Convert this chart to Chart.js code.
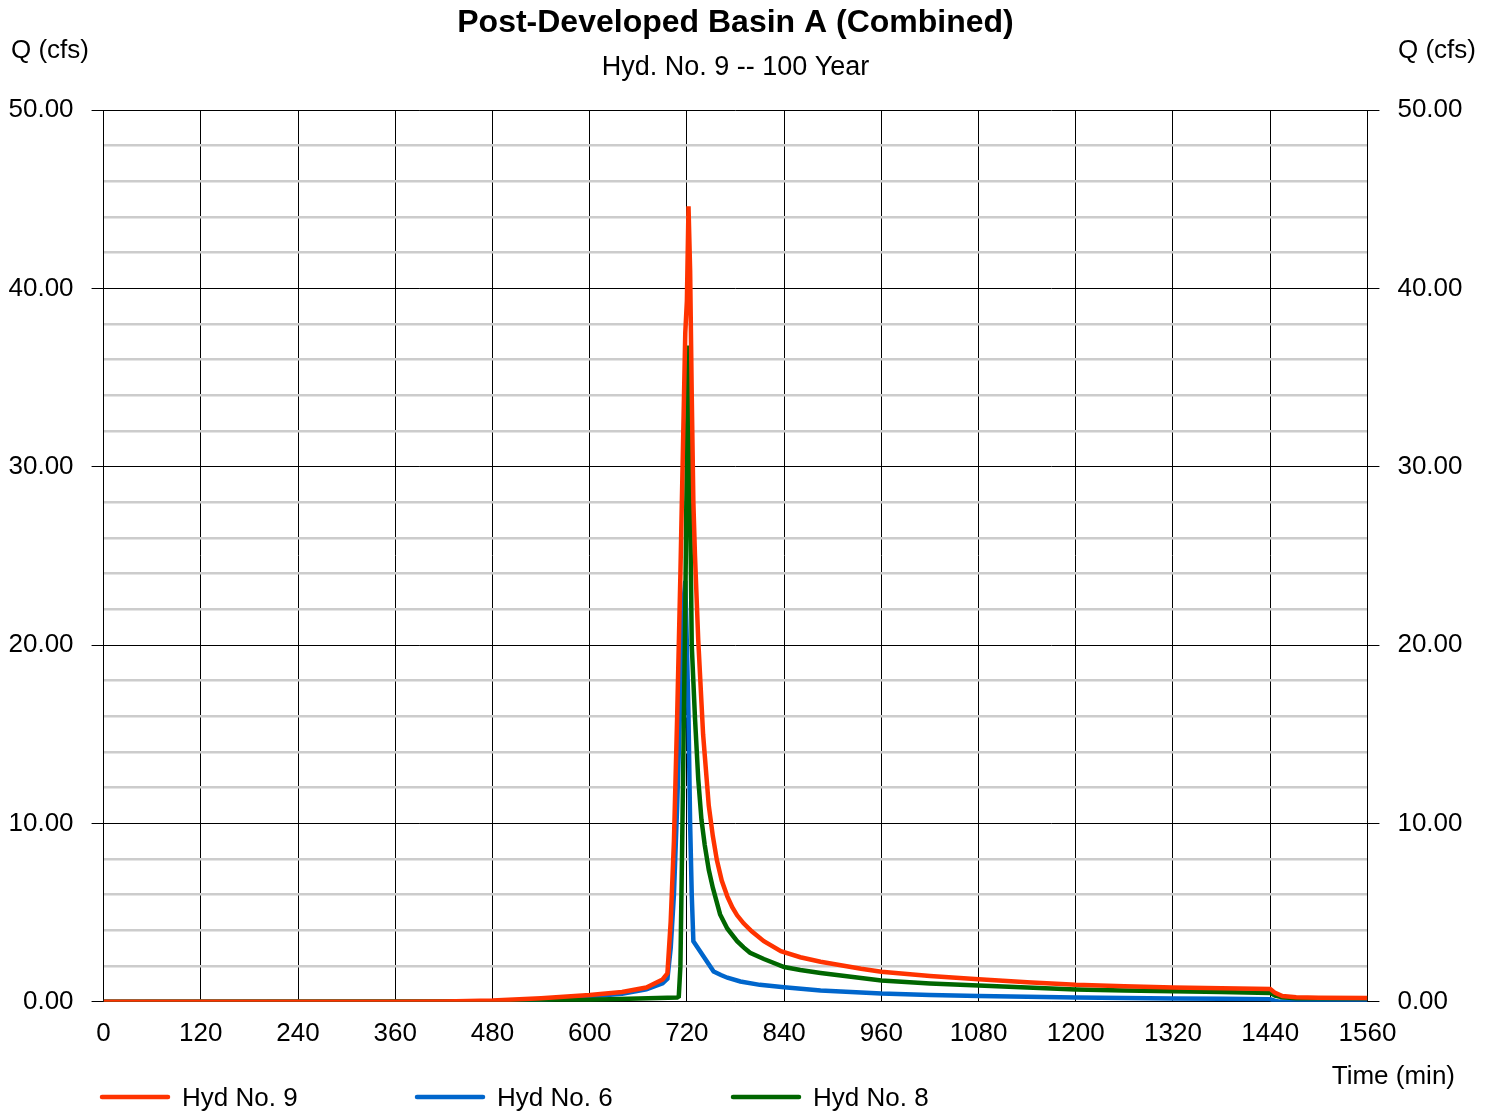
<!DOCTYPE html>
<html>
<head>
<meta charset="utf-8">
<title>Post-Developed Basin A (Combined)</title>
<script src="https://cdn.jsdelivr.net/npm/chart.js@4.4.1/dist/chart.umd.min.js"></script>
<style>
  html, body { margin: 0; padding: 0; background: #fff; }
  #wrap { position: relative; width: 1494px; height: 1112px; }
</style>
</head>
<body>
<div id="wrap"><canvas id="hydroChart"></canvas></div>
<script>
// hydrograph values (time in min, Q in cfs)
const chartTitle = 'Post-Developed Basin A (Combined)';
const chartSubtitle = 'Hyd. No. 9 -- 100 Year';
const seriesNames = ['Hyd No. 9', 'Hyd No. 6', 'Hyd No. 8'];
const seriesColors = ['#ff3300', '#0066cc', '#006600'];

const time9 = [0, 360, 420, 480, 540, 600, 640, 670, 690, 696, 700, 704, 708, 712, 716, 718, 720, 722, 724, 726, 728, 730, 734, 740, 747, 752, 757, 763, 770, 776, 782, 790, 800, 815, 836, 860, 885, 910, 935, 960, 1020, 1080, 1140, 1200, 1260, 1320, 1380, 1440, 1446, 1455, 1472, 1500, 1560];
const flow9 = [0, 0, 0.01, 0.07, 0.2, 0.38, 0.55, 0.8, 1.25, 1.6, 4.5, 9, 16, 24, 33, 37.5, 39.3, 44.6, 41, 34, 28, 25, 20.3, 15, 11, 9.3, 7.95, 6.8, 5.9, 5.3, 4.85, 4.4, 3.95, 3.4, 2.84, 2.5, 2.25, 2.05, 1.85, 1.68, 1.45, 1.26, 1.1, 0.95, 0.87, 0.8, 0.76, 0.72, 0.5, 0.32, 0.25, 0.23, 0.22];

const time6 = [0, 420, 480, 540, 600, 640, 670, 690, 696, 700, 704, 708, 712, 716, 718, 720, 722, 724, 726, 728, 753, 762, 770, 786, 810, 840, 885, 910, 960, 1020, 1080, 1140, 1200, 1260, 1320, 1380, 1440, 1446, 1452, 1500, 1560];
const flow6 = [0, 0, 0.03, 0.12, 0.3, 0.45, 0.7, 1.04, 1.3, 3, 6, 11, 17, 22.5, 23.6, 20, 16, 10, 6, 3.4, 1.7, 1.5, 1.35, 1.14, 0.95, 0.81, 0.63, 0.58, 0.46, 0.38, 0.32, 0.28, 0.24, 0.21, 0.19, 0.17, 0.15, 0.05, 0.01, 0, 0];

const time8 = [0, 480, 540, 600, 660, 708, 710, 712, 714, 716, 718, 720, 722, 724, 726, 730, 734, 738, 742, 747, 752, 761, 770, 782, 790, 798, 815, 840, 860, 885, 910, 960, 1020, 1080, 1140, 1200, 1260, 1320, 1380, 1440, 1446, 1455, 1472, 1500, 1560];
const flow8 = [0, 0.01, 0.05, 0.12, 0.18, 0.24, 0.3, 2, 8.3, 15, 22, 31, 36.8, 28, 20, 15.9, 12.5, 10.2, 8.8, 7.4, 6.4, 4.9, 4.1, 3.4, 3.05, 2.75, 2.4, 1.95, 1.78, 1.62, 1.48, 1.2, 1.03, 0.91, 0.8, 0.69, 0.63, 0.59, 0.55, 0.5, 0.35, 0.25, 0.2, 0.2, 0.2];

const xTicksMax = 1560;
const xStep = 120;
const yMax = 50;
const yMinorStep = 2;
const yMajorStep = 10;

const FONT = '"Liberation Sans", Arial, Helvetica, sans-serif';
Chart.defaults.font.family = FONT;
Chart.defaults.color = '#000';

function toPoints(times, flows) {
    return times.map((t, i) => ({ x: t, y: flows[i] }));
}

const isMajor = v => Math.abs(v % yMajorStep) < 1e-6;

// texts that sit outside the usual Chart.js boxes: title, axis names, legend
const labelPlugin = {
    id: 'hydroLabels',
    afterDraw(chart) {
        const { ctx, chartArea: a } = chart;
        const mid = (a.left + a.right) / 2;
        ctx.save();
        ctx.fillStyle = '#000';
        ctx.textBaseline = 'alphabetic';

        ctx.textAlign = 'center';
        ctx.font = 'bold 32px ' + FONT;
        ctx.fillText(chartTitle, mid, 32);
        ctx.font = '27px ' + FONT;
        ctx.fillText(chartSubtitle, mid, 75);

        ctx.font = '26px ' + FONT;
        ctx.textAlign = 'left';
        ctx.fillText('Q (cfs)', 11, 58);
        ctx.textAlign = 'right';
        ctx.fillText('Q (cfs)', 1476, 58);
        ctx.fillText('Time (min)', 1455, 1084);

        // legend
        const legendX = [102, 417, 733];
        const legendY = 1097;
        ctx.textAlign = 'left';
        seriesNames.forEach((name, i) => {
            ctx.strokeStyle = seriesColors[i];
            ctx.lineWidth = 4.5;
            ctx.lineCap = 'round';
            ctx.beginPath();
            ctx.moveTo(legendX[i], legendY);
            ctx.lineTo(legendX[i] + 66, legendY);
            ctx.stroke();
            ctx.fillText(name, legendX[i] + 80, legendY + 9);
        });
        ctx.restore();
    }
};

function yAxis(position, onChart) {
    return {
        type: 'linear',
        position: position,
        min: 0,
        max: yMax,
        afterBuildTicks: axis => {
            const ticks = [];
            for (let v = 0; v <= yMax; v += yMinorStep) ticks.push({ value: v });
            axis.ticks = ticks;
        },
        ticks: {
            autoSkip: false,
            padding: 18,
            font: { size: 26 },
            color: '#000',
            callback: v => isMajor(v) ? v.toFixed(2) : ''
        },
        grid: {
            drawOnChartArea: onChart,
            color: c => isMajor(c.tick.value) ? '#000' : '#cccccc',
            lineWidth: c => isMajor(c.tick.value) ? 1 : 2.6,
            tickColor: c => isMajor(c.tick.value) ? '#000' : 'rgba(0,0,0,0)',
            tickWidth: 1,
            tickLength: 12
        },
        border: { display: true, color: '#000', width: 1 }
    };
}

const datasets = [
    { label: seriesNames[0], data: toPoints(time9, flow9), borderColor: seriesColors[0], order: 0 },
    { label: seriesNames[1], data: toPoints(time6, flow6), borderColor: seriesColors[1], order: 2 },
    { label: seriesNames[2], data: toPoints(time8, flow8), borderColor: seriesColors[2], order: 1 }
].map(d => Object.assign(d, {
    backgroundColor: d.borderColor,
    borderWidth: 4.5,
    pointRadius: 0,
    fill: false,
    tension: 0,
    yAxisID: 'y'
}));

new Chart(document.getElementById('hydroChart').getContext('2d'), {
    type: 'line',
    data: { datasets: datasets },
    options: {
        responsive: true,
        maintainAspectRatio: false,
        animation: false,
        layout: { padding: { top: 110, left: -9.5, right: 13.5, bottom: 47 } },
        plugins: {
            legend: { display: false },
            title: { display: false },
            tooltip: { enabled: false }
        },
        scales: {
            x: {
                type: 'linear',
                min: 0,
                max: xTicksMax,
                ticks: {
                    stepSize: xStep,
                    autoSkip: false,
                    maxRotation: 0,
                    padding: 16,
                    font: { size: 26 },
                    color: '#000',
                    callback: v => String(v)
                },
                grid: { color: '#000', lineWidth: 1, drawTicks: false },
                border: { display: true, color: '#000', width: 1 }
            },
            y: yAxis('left', true),
            y2: yAxis('right', false)
        }
    },
    plugins: [labelPlugin]
});
</script>
</body>
</html>
